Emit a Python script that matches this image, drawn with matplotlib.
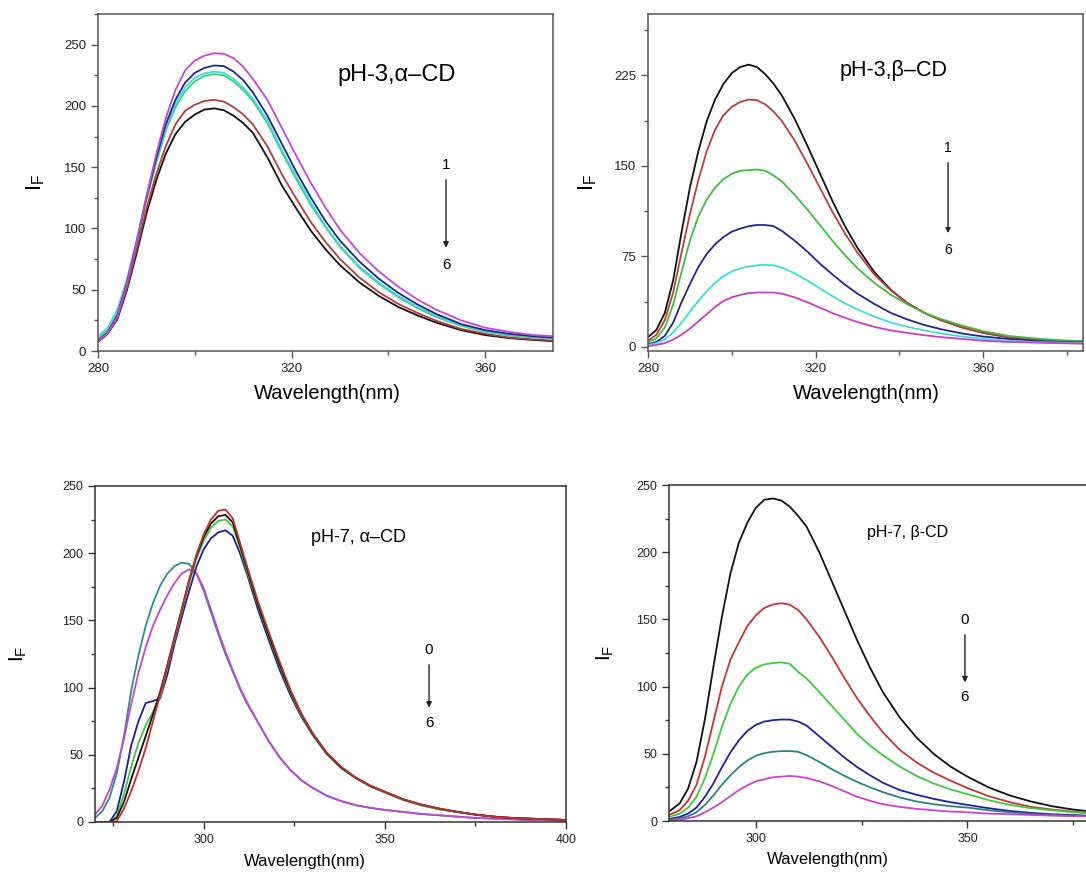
import matplotlib
matplotlib.use("Agg")
import matplotlib.pyplot as plt
from matplotlib.ticker import MultipleLocator

plt.rcParams['font.family'] = ['Liberation Sans', 'DejaVu Sans']
plt.rcParams['mathtext.fontset'] = 'custom'
plt.rcParams['mathtext.rm'] = 'Liberation Sans'
plt.rcParams['mathtext.it'] = 'Liberation Sans'

# ---------------- Panel 1: pH-3, alpha-CD ----------------
wl_a3 = [280, 282, 284, 286, 288, 290, 292, 294, 296, 298, 300, 302, 304, 306, 308, 310, 312,
         315, 318, 321, 324, 327, 330, 334, 338, 342, 346, 350, 355, 360, 365, 370, 374]
a3_black = [7.5, 14, 26, 50, 80, 112, 139, 161, 177, 187, 193, 197, 198, 196.5, 192, 186, 178,
            158, 135, 116, 98, 83, 70, 56, 45, 36, 29, 23, 17, 13, 10.5, 9, 8]
a3_red = [8, 14.5, 27, 52, 83, 116, 144, 167, 185, 196, 201, 204, 205, 203.5, 199, 193, 185,
          167, 144, 124, 105, 89, 75, 60, 48, 38.5, 31, 24.5, 18, 14, 11, 9.5, 8.5]
a3_green = [10, 17, 31, 56, 88, 123, 153, 180, 199, 212, 220, 224.5, 226, 225, 220, 213, 204,
            186, 162, 140, 119, 101, 85, 68, 55, 44, 35, 27.5, 20.5, 15.5, 12.5, 11, 10]
a3_cyan = [12, 19, 34, 59, 91, 126, 156, 183, 202, 215, 223, 226.5, 228, 227, 222, 215, 206,
           188, 164, 142, 121, 102, 86, 69, 56, 45, 36, 28.5, 21, 16, 13, 11.5, 10.5]
a3_blue = [8.5, 15, 29, 56, 89, 125, 157, 185, 205, 219, 227, 231, 233, 232.5, 228, 221, 211,
           192, 169, 146, 125, 106, 90, 73, 59, 47.5, 38, 30, 22, 17, 14, 12, 11]
a3_magenta = [8, 14.5, 28, 55, 89, 126, 160, 190, 213, 229, 237, 241, 243, 242.5, 239, 232, 222,
              205, 182, 159, 137, 117, 99, 80, 65, 52.5, 42, 33.5, 25, 19, 15.5, 13, 12]

# ---------------- Panel 2: pH-3, beta-CD ----------------
wl_b3 = [280, 282, 284, 286, 288, 290, 292, 294, 296, 298, 300, 302, 304, 306, 308, 310, 312,
         315, 318, 321, 324, 327, 330, 334, 338, 342, 346, 350, 355, 360, 366, 372, 378, 384]
b3_black = [8, 14, 28, 55, 95, 132, 162, 187, 205, 218, 227, 232, 234, 232, 226, 218, 208,
            189, 167, 144, 121, 100, 82, 62, 47, 36, 28, 22, 16, 11.5, 8, 6, 5, 4.5]
b3_red = [5, 10, 22, 45, 78, 110, 138, 162, 180, 192, 199, 203, 205, 204.5, 201, 195, 187,
          171, 152, 132, 112, 94, 78, 60, 46.5, 36, 28, 22, 16, 11.5, 8, 6, 5, 4.5]
b3_green = [3.5, 7, 16, 35, 62, 88, 108, 122, 132, 139, 143.5, 146, 146.5, 147, 146, 142, 137,
            126, 114, 101, 88, 76, 65, 53, 43, 35, 28, 23, 17.5, 13, 9, 7, 5.5, 4.5]
b3_blue = [2, 4, 9, 20, 37, 52, 66, 77, 85, 91, 95.5, 98, 100, 101, 101, 100, 96,
           88, 79, 69, 60, 51.5, 44, 35.5, 28, 22.5, 18, 14.5, 11, 8.5, 6.5, 5, 4, 3.5]
b3_cyan = [1.5, 3, 6, 12, 20, 29, 38, 46, 53, 58.5, 62.5, 65, 66.5, 67.5, 68, 67.5, 65.5,
           61, 55, 48.5, 42, 36, 31, 25, 20, 16.5, 13.5, 11, 8.5, 6.5, 5, 4, 3.5, 3]
b3_magenta = [0.5, 1.5, 3, 6, 10, 15, 21, 27, 33, 38, 41, 43, 44.5, 45, 45, 45, 44,
              41, 37, 32.5, 28, 24, 20.5, 16.5, 13.5, 11.5, 9.5, 8, 6.5, 5, 4, 3.5, 3, 2.5]

# ---------------- Panel 3: pH-7, alpha-CD ----------------
wl_a7 = [270, 272, 274, 276, 278, 280, 282, 284, 286, 288, 290, 292, 294, 296, 298, 300, 302,
         304, 306, 308, 310, 312, 315, 318, 321, 324, 327, 330, 334, 338, 342, 346, 350, 355,
         360, 365, 370, 375, 380, 385, 390, 395, 400]
a7_teal = [3, 8, 18, 36, 64, 98, 124, 146, 163, 176, 185, 190.5, 193, 192, 185, 172, 156,
           140, 125, 112, 99, 88, 74, 60, 48, 38.5, 31, 25.5, 19.5, 15.5, 12.5, 10.5, 9, 7.5,
           6, 5, 4, 3, 2.5, 2, 1.5, 1.5, 1]
a7_magenta = [5.5, 12, 24, 40, 62, 88, 111, 130, 146, 158, 169, 178, 185, 188, 185, 174, 158,
              142, 127, 113, 100, 89, 74, 60, 48, 38.5, 31, 25.5, 19.5, 15.5, 12.5, 10.5, 9, 7.5,
              6, 5, 4, 3, 2.5, 2, 1.5, 1.5, 1]
a7_blue = [0, 0, 0, 8, 30, 57, 75, 88.5, 90, 92, 110, 133, 153, 172, 190, 203, 211,
           215.5, 217, 213, 200, 184, 158, 135, 113, 94, 78, 65, 50.5, 40, 32.5, 26.5, 22, 16.5,
           12.5, 9.5, 7.5, 5.5, 4, 3, 2.5, 2, 1.5]
a7_green = [0, 0, 0, 4, 21, 41, 59, 72, 82, 93, 115, 136, 157, 178, 196, 209, 219,
            224, 225, 220, 204, 186, 161, 138, 116, 96, 79, 65.5, 50.5, 40, 32.5, 26.5, 22, 16.5,
            12.5, 9.5, 7.5, 5.5, 4, 3, 2.5, 2, 1.5]
a7_black = [0, 0, 0, 3, 15, 32, 48, 64, 80, 97, 117, 138, 159, 180, 198, 212, 222,
            227.5, 228.5, 223, 206, 188, 162, 139, 117, 97, 80, 66, 51, 40.5, 33, 27, 22.5, 17,
            13, 10, 7.5, 5.5, 4, 3, 2.5, 2, 1.5]
a7_red = [0, 0, 0, 0.5, 10, 23, 38, 55, 75, 95, 116, 137, 158, 180, 199, 214, 225,
          231.5, 232.5, 226, 208, 190, 164, 141, 119, 98, 80.5, 66.5, 51.5, 41, 33, 27, 22.5, 17,
          13, 10, 7.5, 5.5, 4, 3, 2.5, 2, 1.5]

# ---------------- Panel 4: pH-7, beta-CD ----------------
wl_b7 = [279.5, 282, 284, 286, 288, 290, 292, 294, 296, 298, 300, 302, 304, 306, 308, 310, 312,
         315, 318, 321, 324, 327, 330, 334, 338, 342, 346, 350, 355, 360, 365, 370, 375, 378]
b7_black = [7, 13, 24, 44, 76, 115, 152, 184, 207, 222, 233, 239, 240, 238.5, 234, 227, 219,
            200, 178, 156, 134, 114, 96, 77, 62, 50, 40.5, 33, 25, 19, 14.5, 11, 8.5, 7.5]
b7_red = [4.5, 8, 15, 27, 48, 74, 100, 120, 133, 145, 153, 158.5, 161, 162, 161, 157, 150,
          137, 122, 106, 91, 78, 66, 53, 43.5, 36, 30, 24.5, 18.5, 14, 10.5, 8.5, 7, 6]
b7_green = [3, 5.5, 10, 18, 32, 50, 70, 87, 100, 109, 114, 116.5, 117.5, 118, 117, 111, 106,
            96, 85.5, 75, 64.5, 56, 49, 40.5, 33.5, 28, 23.5, 20, 15.5, 12, 9.5, 8, 6.5, 6]
b7_blue = [1.5, 3, 5.5, 10, 18, 28, 40, 51, 60, 67, 71.5, 74, 75, 75.5, 75.5, 74, 71,
           63, 55, 47, 40, 34, 28.5, 23, 19.5, 16.5, 14, 12, 9.5, 7.5, 6, 5, 4.5, 4]
b7_teal = [1, 2, 3.5, 6.5, 12, 19, 27, 34, 40, 45, 48.5, 50.5, 51.5, 52, 52, 51.5, 49,
           44, 38.5, 33.5, 29, 25, 21.5, 17.5, 14.5, 12.5, 11, 10, 8, 6.5, 5, 4.5, 4, 3.5]
b7_magenta = [0.5, 1, 2, 3.5, 6.5, 10, 14, 18.5, 23, 26.5, 29.5, 31, 32.5, 33, 33.5, 33, 32,
              29.5, 26, 22, 18, 15, 12.5, 10.5, 9, 8, 7, 6.5, 5.5, 5, 4.5, 4, 3.5, 3.5]

W, H = 1086, 875
fig = plt.figure(figsize=(W / 100, H / 100), dpi=100)
fig.patch.set_facecolor('white')


def make_ax(left, right, top, bottom):
    return fig.add_axes([left / W, 1 - bottom / H, (right - left) / W, (bottom - top) / H])


def style(ax, spine_color, tick_fs):
    for s in ax.spines.values():
        s.set_color(spine_color)
        s.set_linewidth(1.1)
    ax.tick_params(which='major', direction='out', length=5, width=1, colors=spine_color,
                   labelsize=tick_fs, labelcolor='#222222')
    ax.tick_params(which='minor', direction='out', length=3, width=1, colors=spine_color)


def labels(ax, xl_fs, yl_fs, xpos, ypos):
    ax.set_xlabel('Wavelength(nm)', fontsize=xl_fs, va='center')
    ax.xaxis.set_label_coords(*xpos)
    ax.set_ylabel(r'$\mathregular{I_F}$', fontsize=yl_fs, va='center')
    ax.yaxis.set_label_coords(*ypos)


def arrow(ax, x, y0, y1, ms=8):
    ax.annotate('', xy=(x, y1), xytext=(x, y0),
                arrowprops=dict(arrowstyle='-|>', color='#222222', lw=1, mutation_scale=ms))


LW = 1.3

# Panel 1
ax1 = make_ax(98, 553, 14, 351)
for y, c in [(a3_black, '#111111'), (a3_red, '#b83a3a'), (a3_green, '#2ed47a'),
             (a3_cyan, '#45d8dc'), (a3_blue, '#23238c'), (a3_magenta, '#c847d0')]:
    ax1.plot(wl_a3, y, color=c, lw=LW)
ax1.set_xlim(280, 374)
ax1.set_ylim(0, 275)
ax1.xaxis.set_major_locator(MultipleLocator(40))
ax1.xaxis.set_minor_locator(MultipleLocator(20))
ax1.yaxis.set_major_locator(MultipleLocator(50))
ax1.yaxis.set_minor_locator(MultipleLocator(25))
style(ax1, '#555555', 9.5)
labels(ax1, 14.5, 16, (0.505, -0.125), (-0.138, 0.5))
ax1.text(341.6, 225.5, 'pH-3,α–CD', fontsize=17, ha='center', va='center')
ax1.text(351.9, 152, '1', fontsize=11, ha='center', va='center')
ax1.text(351.9, 70, '6', fontsize=11, ha='center', va='center')
arrow(ax1, 351.9, 142, 82)

# Panel 2
ax2 = make_ax(648, 1083, 14, 351)
for y, c in [(b3_black, '#111111'), (b3_red, '#c03c3c'), (b3_green, '#3cbf3c'),
             (b3_blue, '#24248c'), (b3_cyan, '#3fdcdc'), (b3_magenta, '#cc3ccc')]:
    ax2.plot(wl_b3, y, color=c, lw=LW)
ax2.set_xlim(280, 383.8)
ax2.set_ylim(-3.5, 276)
ax2.xaxis.set_major_locator(MultipleLocator(40))
ax2.xaxis.set_minor_locator(MultipleLocator(20))
ax2.yaxis.set_major_locator(MultipleLocator(75))
ax2.yaxis.set_minor_locator(MultipleLocator(37.5))
style(ax2, '#555555', 9.5)
labels(ax2, 14.5, 16, (0.503, -0.125), (-0.138, 0.5))
ax2.text(338.5, 229.4, 'pH-3,β–CD', fontsize=15.5, ha='center', va='center')
ax2.text(351.6, 164.6, '1', fontsize=10, ha='center', va='center')
ax2.text(351.6, 80.6, '6', fontsize=10, ha='center', va='center')
arrow(ax2, 351.6, 155, 92, ms=7)

# Panel 3
ax3 = make_ax(95, 566, 486, 822)
for y, c in [(a7_teal, '#2f8c8c'), (a7_magenta, '#c842d8'), (a7_blue, '#1c1c96'),
             (a7_green, '#3ccc3c'), (a7_black, '#111111'), (a7_red, '#cc2a2a')]:
    ax3.plot(wl_a7, y, color=c, lw=LW)
ax3.set_xlim(270, 400)
ax3.set_ylim(0, 250)
ax3.xaxis.set_major_locator(MultipleLocator(50))
ax3.xaxis.set_minor_locator(MultipleLocator(25))
ax3.yaxis.set_major_locator(MultipleLocator(50))
ax3.yaxis.set_minor_locator(MultipleLocator(25))
style(ax3, '#333333', 9)
labels(ax3, 12, 15, (0.446, -0.119), (-0.163, 0.5))
ax3.text(342.6, 212, 'pH-7, α–CD', fontsize=13, ha='center', va='center')
ax3.text(362.2, 128, '0', fontsize=11, ha='center', va='center')
ax3.text(362.2, 73.7, '6', fontsize=11, ha='center', va='center')
arrow(ax3, 362.2, 119, 83)

# Panel 4
ax4 = make_ax(669, 1086, 485, 821)
for y, c in [(b7_black, '#111111'), (b7_red, '#c83434'), (b7_green, '#3ccc3c'),
             (b7_blue, '#20209a'), (b7_teal, '#2a8282'), (b7_magenta, '#cc44cc')]:
    ax4.plot(wl_b7, y, color=c, lw=LW)
ax4.set_xlim(279.5, 378)
ax4.set_ylim(0, 250)
ax4.xaxis.set_major_locator(MultipleLocator(50))
ax4.xaxis.set_minor_locator(MultipleLocator(25))
ax4.yaxis.set_major_locator(MultipleLocator(50))
ax4.yaxis.set_minor_locator(MultipleLocator(25))
style(ax4, '#333333', 9)
ax4.spines['right'].set_visible(False)
labels(ax4, 12, 15, (0.381, -0.116), (-0.153, 0.5))
ax4.text(335.9, 215, 'pH-7, β-CD', fontsize=11.5, ha='center', va='center')
ax4.text(349.4, 149.5, '0', fontsize=11, ha='center', va='center')
ax4.text(349.4, 92, '6', fontsize=11, ha='center', va='center')
arrow(ax4, 349.4, 140.6, 101)

fig.savefig('out.png', dpi=100)
